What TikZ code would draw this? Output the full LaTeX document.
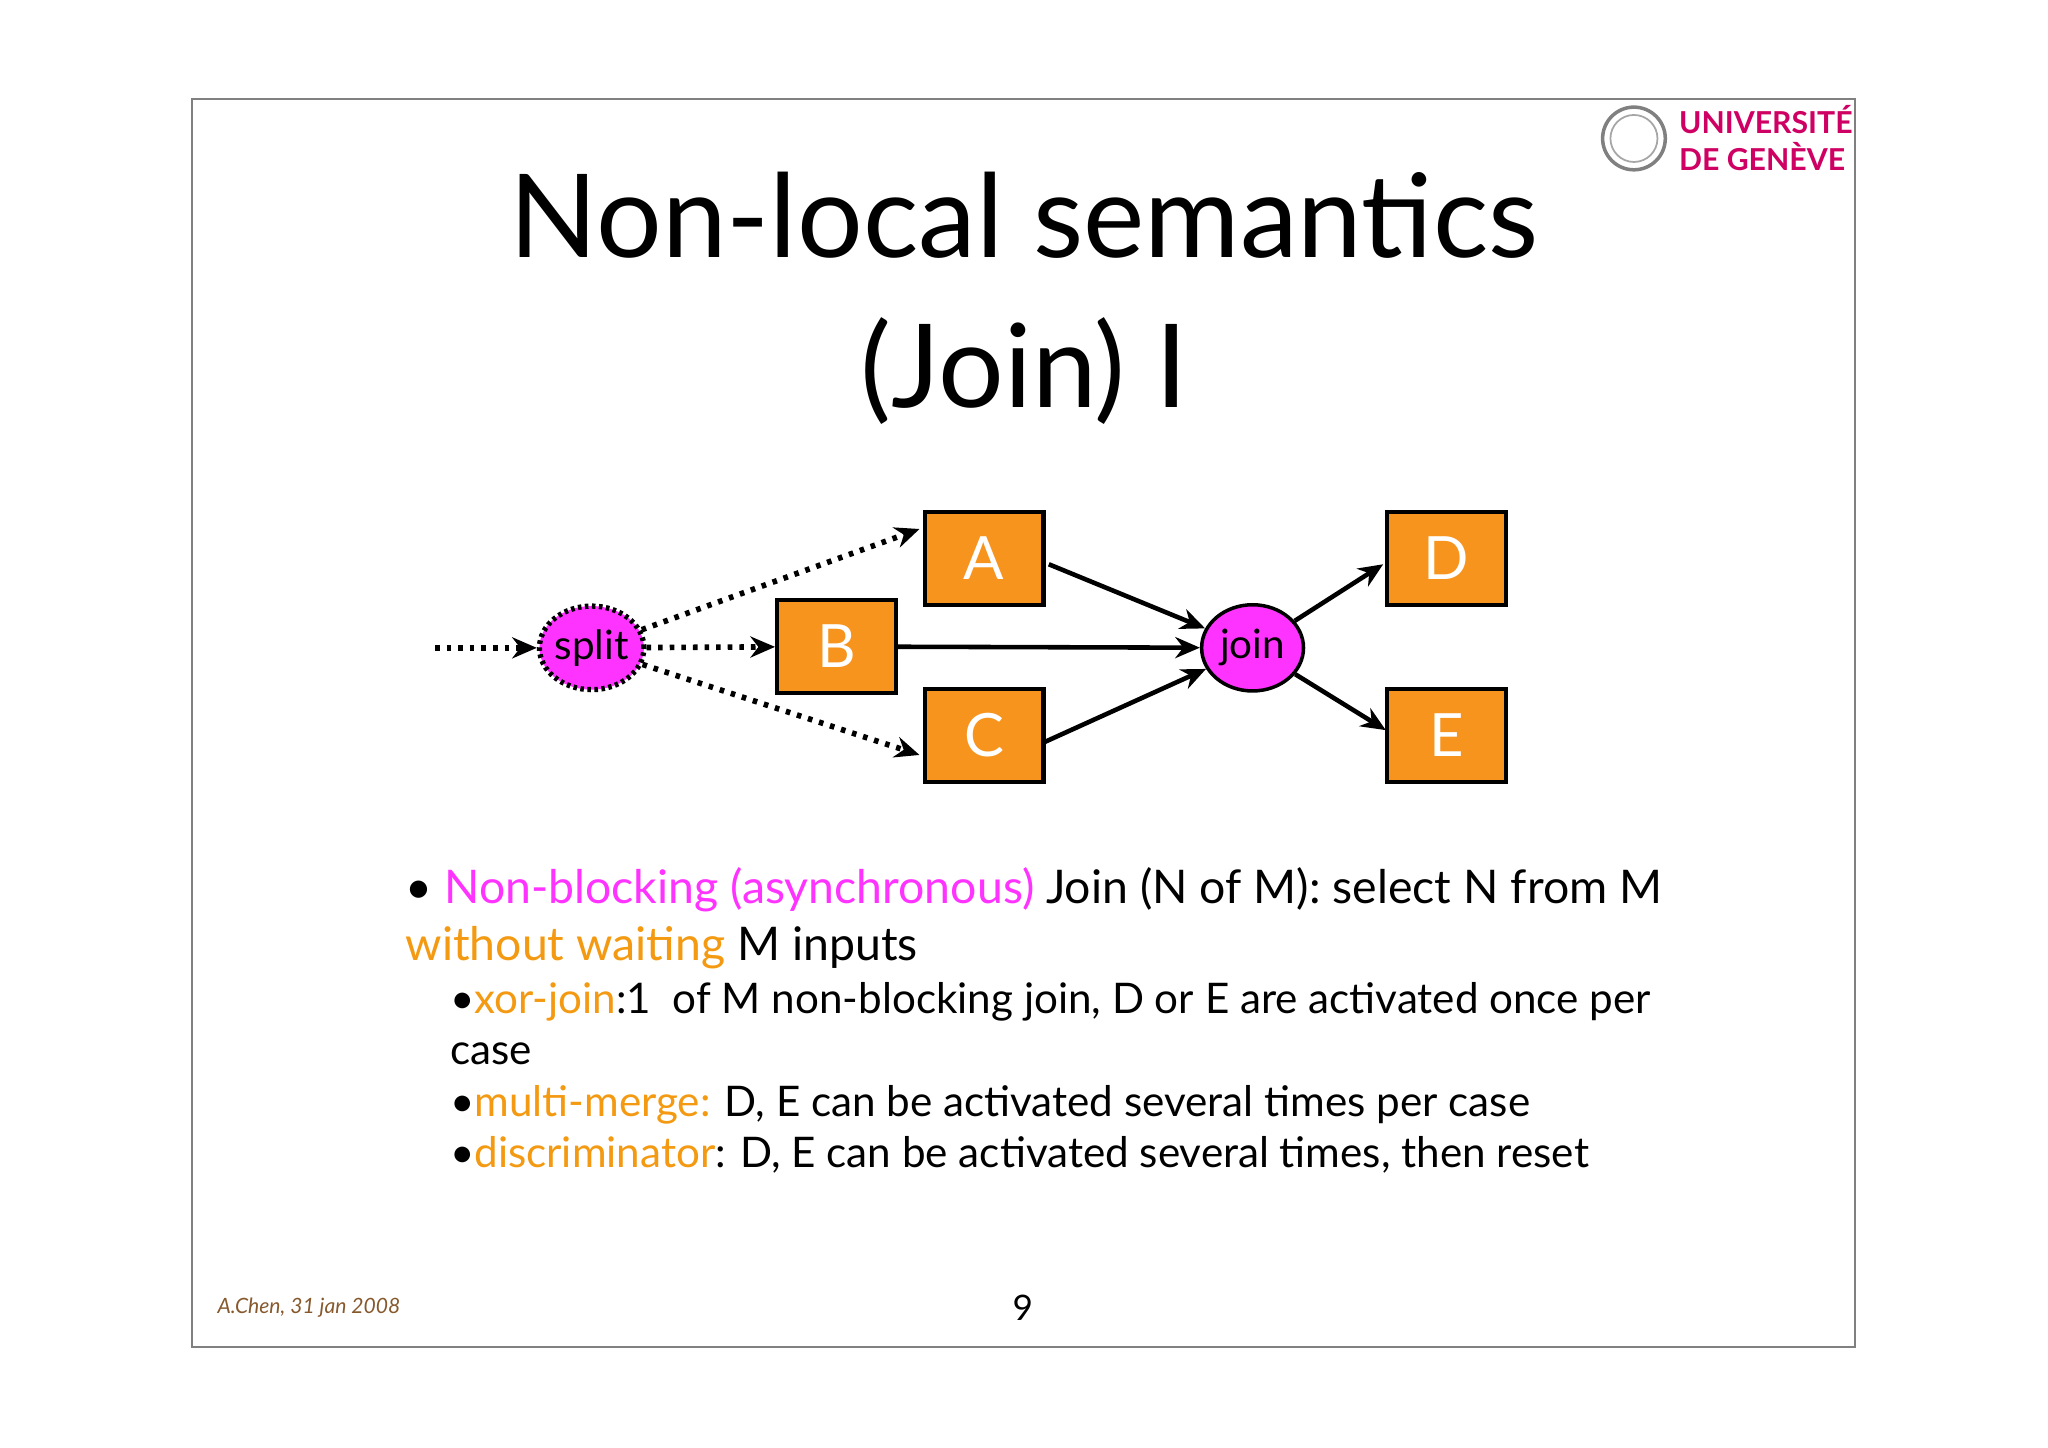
\documentclass[tikz,border=0pt]{standalone}
\usepackage{fontspec}
\setmainfont{Lato}
\usetikzlibrary{arrows.meta,shapes.geometric}
\definecolor{org}{HTML}{F7941D}
\definecolor{otext}{HTML}{F39A12}
\definecolor{mag}{HTML}{FF33FF}
\definecolor{unige}{HTML}{CF0063}
\begin{document}
\begin{tikzpicture}[x=0.01306cm,y=-0.01306cm,
  box/.style={draw=black,line width=1.2pt,fill=org,minimum width=91*0.01306cm,minimum height=71*0.01306cm,text=white,font=\fontsize{17}{17}\selectfont,inner sep=0},
  gate/.style={ellipse,fill=mag,draw=black,line width=1pt,font=\fontsize{11.5}{12}\selectfont,inner sep=0},
  arr/.style={-{Stealth[length=7pt,width=6pt]},line width=1.3pt},
  darr/.style={arr,dotted,line width=1.6pt},
  big/.style={anchor=base west,inner sep=0,font=\fontsize{13.2}{16}\selectfont},
  small/.style={anchor=base west,inner sep=0,font=\fontsize{12}{14.9}\selectfont}]
\useasboundingbox (0,0) rectangle (1568,1108);
\draw[gray,line width=0.6pt] (147,76) rectangle (1420,1031);
% logo
\node[circle,draw=gray,line width=1pt,minimum size=48*0.01306cm] (logo) at (1251,106) {};
\node[circle,draw=gray!70,line width=0.5pt,minimum size=36*0.01306cm] (logoin) at (1251,106) {};
\node[anchor=west,text=unige,font=\bfseries\fontsize{8.6}{10.5}\selectfont,align=left,inner sep=0] (uni) at (1285,106) {UNIVERSITÉ\\DE GENÈVE};
% title
\node[anchor=base,font=\fontsize{33}{40}\selectfont] (title1) at (784,197) {Non-local semantics};
\node[anchor=base,font=\fontsize{33}{40}\selectfont] (title2) at (784,312) {(Join) I};
% nodes
\node[box] (A) at (753.5,427.5) {A};
\node[box] (B) at (640.5,495) {B};
\node[box] (C) at (753.5,563) {C};
\node[box] (D) at (1107.5,427.5) {D};
\node[box] (E) at (1107.5,563) {E};
\node[gate,densely dotted,line width=1.5pt,minimum width=80*0.01306cm,minimum height=64*0.01306cm] (split) at (453,496) {split};
\node[gate,minimum width=78*0.01306cm,minimum height=66*0.01306cm] (join) at (959,496) {join};
\coordinate (in) at (333,496);
\draw[darr] (in) -- (split);
\draw[darr] (split) -- (704,405);
\draw[darr] (split) -- (B);
\draw[darr] (split) -- (704,578);
\draw[arr] (803,432) -- (join);
\draw[arr] (B) -- (join);
\draw[arr] (800,568) -- (join);
\draw[arr] (join) -- (1059,432);
\draw[arr] (join) -- (1061,559);
% text
\node[big] (l1) at (310,692) {• \textcolor{mag}{Non-blocking (asynchronous)} Join (N of M): select N from M};
\node[big] (l2) at (310,735) {\textcolor{otext}{without waiting} M inputs};
\node[small] (l3) at (344,776) {•\textcolor{otext}{xor-join}:1\ \ of M non-blocking join, D or E are activated once per};
\node[small] (l4) at (344,815) {case};
\node[small] (l5) at (344,855) {•\textcolor{otext}{multi-merge:} D, E can be activated several times per case};
\node[small] (l6) at (344,894) {•\textcolor{otext}{discriminator}: D, E can be activated several times, then reset};
\node[anchor=west,text=brown!70!black,font=\itshape\fontsize{6}{8}\selectfont,inner sep=0] (auth) at (166,1001) {A.Chen, 31 jan 2008};
\node[font=\fontsize{10}{12}\selectfont] (pg) at (783,1001) {9};
\end{tikzpicture}
\end{document}
